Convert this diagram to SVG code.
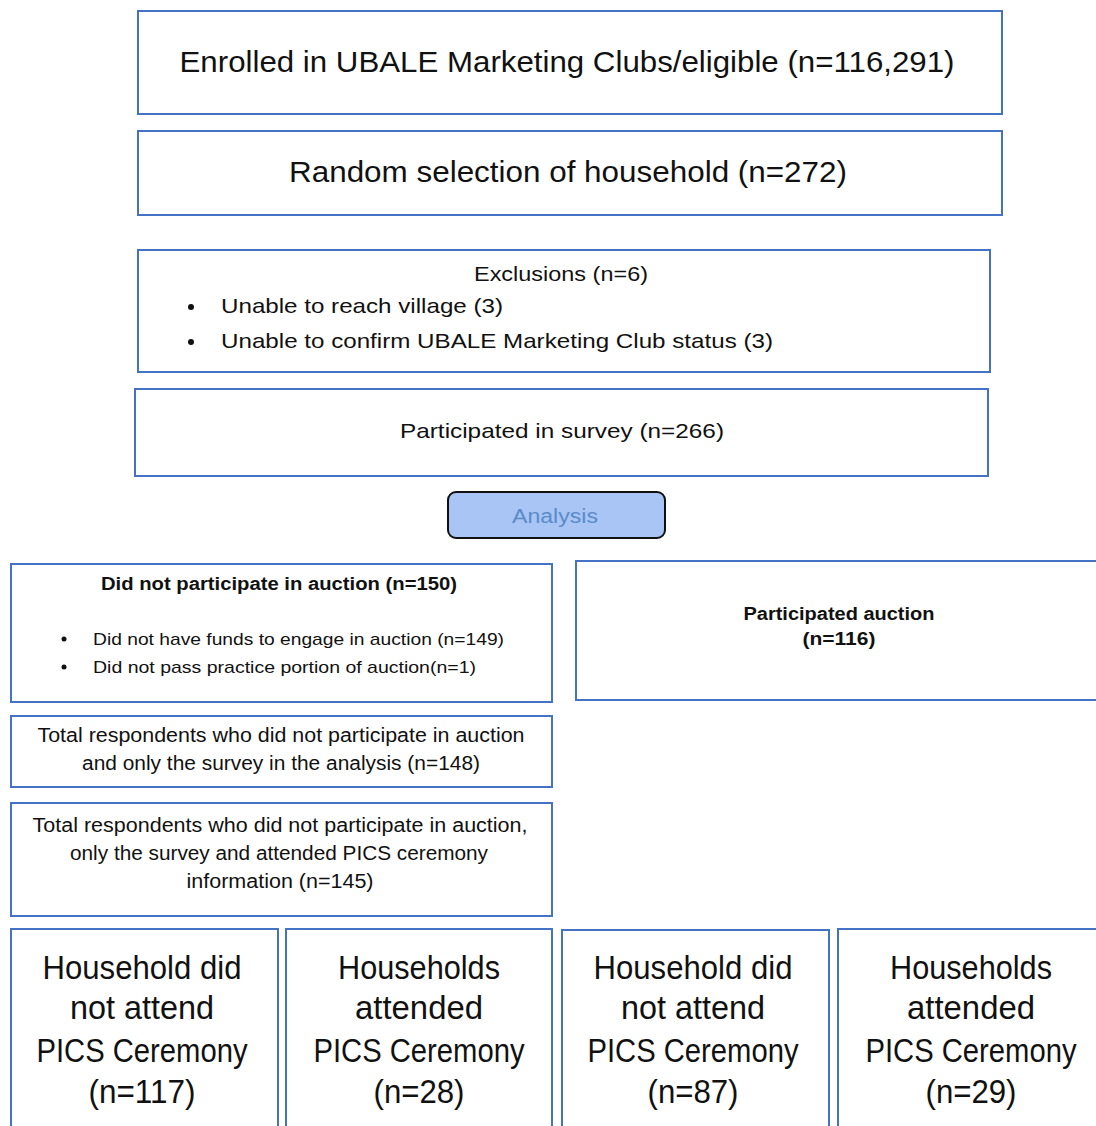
<svg xmlns="http://www.w3.org/2000/svg" width="1096" height="1126" viewBox="0 0 1096 1126">
<style>
.b{fill:#fff;stroke:#4472c4;stroke-width:2}
.t{font-family:"Liberation Sans",Arial,sans-serif;fill:#111;text-anchor:middle}
.l{font-family:"Liberation Sans",Arial,sans-serif;fill:#111}
.bold{font-weight:bold}
.big{font-size:34px}
</style>
<rect width="1096" height="1126" fill="#fff"/>
<g id="enrolled"><rect class="b" x="138" y="11" width="864" height="103"/>
<text class="t" x="567" y="72" font-size="29" textLength="775" lengthAdjust="spacingAndGlyphs">Enrolled in UBALE Marketing Clubs/eligible (n=116,291)</text></g>
<g id="random"><rect class="b" x="138" y="131" width="864" height="84"/>
<text class="t" x="568" y="182" font-size="29" textLength="558" lengthAdjust="spacingAndGlyphs">Random selection of household (n=272)</text></g>
<g id="exclusions"><rect class="b" x="138" y="250" width="852" height="122"/>
<text class="t" x="561" y="281" font-size="21" textLength="174" lengthAdjust="spacingAndGlyphs">Exclusions (n=6)</text>
<circle cx="191" cy="307" r="3" fill="#111"/><circle cx="191" cy="342" r="3" fill="#111"/>
<text class="l" x="221" y="313" font-size="21" textLength="282" lengthAdjust="spacingAndGlyphs">Unable to reach village (3)</text>
<text class="l" x="221" y="348" font-size="21" textLength="552" lengthAdjust="spacingAndGlyphs">Unable to confirm UBALE Marketing Club status (3)</text></g>
<g id="survey"><rect class="b" x="135" y="389" width="853" height="87"/>
<text class="t" x="562" y="438" font-size="21" textLength="324" lengthAdjust="spacingAndGlyphs">Participated in survey (n=266)</text></g>
<g id="analysis"><rect x="448" y="492" width="217" height="46" rx="8" fill="#a9c5f5" stroke="#111" stroke-width="2"/>
<text class="t" x="555" y="523" font-size="20" style="fill:#5b8bc9" textLength="86" lengthAdjust="spacingAndGlyphs">Analysis</text></g>
<g id="noauction"><rect class="b" x="11" y="564" width="541" height="138"/>
<text class="t bold" x="279" y="590" font-size="18" textLength="356" lengthAdjust="spacingAndGlyphs">Did not participate in auction (n=150)</text>
<circle cx="64" cy="639" r="2.5" fill="#111"/><circle cx="64" cy="667" r="2.5" fill="#111"/>
<text class="l" x="93" y="645" font-size="17" textLength="411" lengthAdjust="spacingAndGlyphs">Did not have funds to engage in auction (n=149)</text>
<text class="l" x="93" y="673" font-size="17" textLength="383" lengthAdjust="spacingAndGlyphs">Did not pass practice portion of auction(n=1)</text></g>
<g id="auction"><rect class="b" x="576" y="561" width="530" height="139"/>
<text class="t bold" x="839" y="620" font-size="18" textLength="191" lengthAdjust="spacingAndGlyphs">Participated auction</text>
<text class="t bold" x="839" y="645" font-size="18" textLength="73" lengthAdjust="spacingAndGlyphs">(n=116)</text></g>
<g id="total148"><rect class="b" x="11" y="716" width="541" height="71"/>
<text class="t" x="281" y="742" font-size="20" textLength="487" lengthAdjust="spacingAndGlyphs">Total respondents who did not participate in auction</text>
<text class="t" x="281" y="770" font-size="20" textLength="398" lengthAdjust="spacingAndGlyphs">and only the survey in the analysis (n=148)</text></g>
<g id="total145"><rect class="b" x="11" y="803" width="541" height="113"/>
<text class="t" x="280" y="832" font-size="20" textLength="495" lengthAdjust="spacingAndGlyphs">Total respondents who did not participate in auction,</text>
<text class="t" x="279" y="860" font-size="20" textLength="418" lengthAdjust="spacingAndGlyphs">only the survey and attended PICS ceremony</text>
<text class="t" x="280" y="888" font-size="20" textLength="187" lengthAdjust="spacingAndGlyphs">information (n=145)</text></g>
<g id="hh117"><rect class="b" x="11" y="929" width="267" height="210"/>
<text class="t big" x="142" y="979" textLength="199" lengthAdjust="spacingAndGlyphs">Household did</text>
<text class="t big" x="142" y="1019" textLength="144" lengthAdjust="spacingAndGlyphs">not attend</text>
<text class="t big" x="142" y="1062" textLength="211" lengthAdjust="spacingAndGlyphs">PICS Ceremony</text>
<text class="t big" x="142" y="1103" textLength="107" lengthAdjust="spacingAndGlyphs">(n=117)</text></g>
<g id="hh28"><rect class="b" x="286" y="929" width="266" height="210"/>
<text class="t big" x="419" y="979" textLength="162" lengthAdjust="spacingAndGlyphs">Households</text>
<text class="t big" x="419" y="1019" textLength="128" lengthAdjust="spacingAndGlyphs">attended</text>
<text class="t big" x="419" y="1062" textLength="211" lengthAdjust="spacingAndGlyphs">PICS Ceremony</text>
<text class="t big" x="419" y="1103" textLength="91" lengthAdjust="spacingAndGlyphs">(n=28)</text></g>
<g id="hh87"><rect class="b" x="562" y="930" width="267" height="210"/>
<text class="t big" x="693" y="979" textLength="199" lengthAdjust="spacingAndGlyphs">Household did</text>
<text class="t big" x="693" y="1019" textLength="144" lengthAdjust="spacingAndGlyphs">not attend</text>
<text class="t big" x="693" y="1062" textLength="211" lengthAdjust="spacingAndGlyphs">PICS Ceremony</text>
<text class="t big" x="693" y="1103" textLength="91" lengthAdjust="spacingAndGlyphs">(n=87)</text></g>
<g id="hh29"><rect class="b" x="838" y="929" width="268" height="210"/>
<text class="t big" x="971" y="979" textLength="162" lengthAdjust="spacingAndGlyphs">Households</text>
<text class="t big" x="971" y="1019" textLength="128" lengthAdjust="spacingAndGlyphs">attended</text>
<text class="t big" x="971" y="1062" textLength="211" lengthAdjust="spacingAndGlyphs">PICS Ceremony</text>
<text class="t big" x="971" y="1103" textLength="91" lengthAdjust="spacingAndGlyphs">(n=29)</text></g>
<g id="connectors"></g>
</svg>
